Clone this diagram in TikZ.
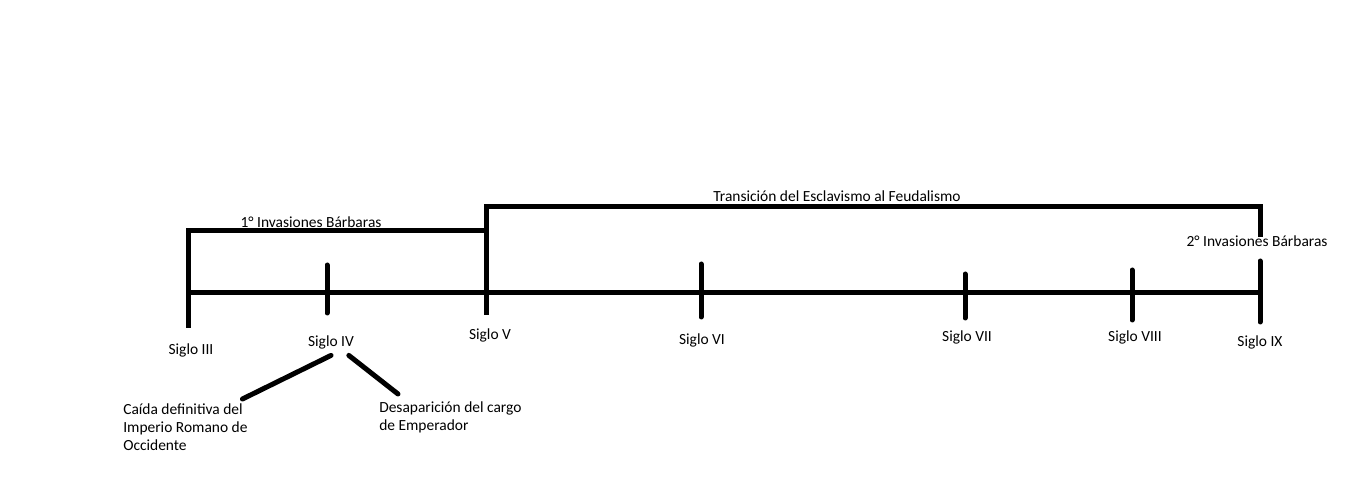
\documentclass[tikz,border=0pt]{standalone}
\usepackage{fontspec}
\setmainfont{Carlito}
\usepackage{tikz}
\usetikzlibrary{positioning}

\begin{document}
\begin{tikzpicture}[x=0.75pt,y=-0.75pt,
    bar/.style={line width=3.75pt},
    tick/.style={line width=3.75pt,line cap=round},
    lbl/.style={font=\fontsize{11.6}{13.5}\selectfont,inner sep=0pt}]
\useasboundingbox (0,0) rectangle (1360,484);
% timeline
\coordinate (t3) at (188,293);
\coordinate (t9) at (1260,293);
\draw[bar] (t3) -- (t9);
\foreach \x/\t/\b in {327/265/313,701/264/317,965/274/318,1132/270/320,1260/261/322}
    \draw[tick] (\x,\t) -- (\x,\b);
% periods
\draw[bar] (188,328) -- (188,231) -- (486,231);
\draw[bar] (486,315) -- (486,207) -- (1260,207) -- (1260,237);
\node[lbl,anchor=base] (inv1) at (311,227.5) {1° Invasiones Bárbaras};
\node[lbl,anchor=base] (trans) at (837,201.5) {Transición del Esclavismo al Feudalismo};
\node[lbl,anchor=base] (inv2) at (1257,246.5) {2° Invasiones Bárbaras};
% centuries
\foreach \n/\x/\y/\s in {iii/191/355/III,iv/331/346.5/IV,v/490/340/V,vi/702/345/VI,
    vii/967/341.5/VII,viii/1135/341.5/VIII,ix/1260/347/IX}
    \node[lbl,anchor=base] (\n) at (\x,\y) {Siglo \s};
% events of Siglo IV
\node[lbl,align=left,anchor=north west] (caida) at (123,403)
    {Caída definitiva del\\Imperio Romano de\\Occidente};
\node[lbl,align=left,anchor=north west] (desap) at (379,401)
    {Desaparición del cargo\\de Emperador};
\coordinate (emp) at (398,394);
\draw[tick] ([yshift=-4.5pt]iv.south) -- ([shift={(-4pt,3pt)}]caida.north east);
\draw[tick] ([shift={(-4pt,-4.5pt)}]iv.south east) -- (emp);
\end{tikzpicture}
\end{document}
